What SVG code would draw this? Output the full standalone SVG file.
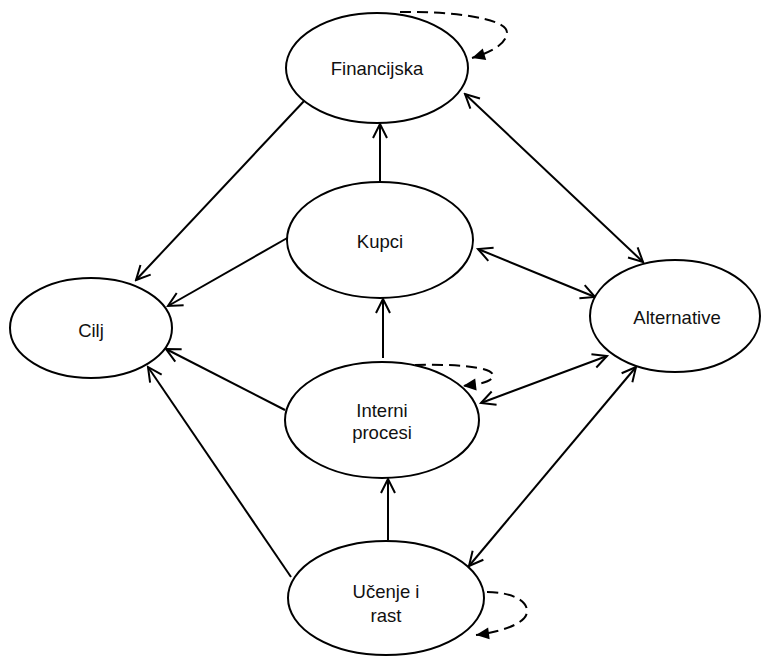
<svg xmlns="http://www.w3.org/2000/svg" width="761" height="659" viewBox="0 0 761 659">
<defs>
<style>
.node ellipse{fill:#fff;stroke:#000;stroke-width:2}
.node text{font-family:"Liberation Sans",Arial,sans-serif;font-size:18.5px;fill:#111;text-anchor:middle}
.edge{fill:none;stroke:#000;stroke-width:2}
.arr{marker-end:url(#open)}
.bi{marker-start:url(#open);marker-end:url(#open)}
.loop{fill:none;stroke:#000;stroke-width:2;stroke-dasharray:11 6;marker-end:url(#filled)}
</style>
<marker id="open" markerUnits="userSpaceOnUse" viewBox="-16 -9 18 18" refX="0" refY="0" markerWidth="18" markerHeight="18" orient="auto-start-reverse">
<path d="M -14 -7 L 0 0 L -14 7" fill="none" stroke="#000" stroke-width="2"/>
</marker>
<marker id="filled" markerUnits="userSpaceOnUse" viewBox="-14 -7 15 14" refX="0" refY="0" markerWidth="15" markerHeight="14" orient="auto">
<path d="M -13 -6 L 0 0 L -13 6 Z" fill="#000"/>
</marker>
</defs>
<rect width="761" height="659" fill="#fff"/>
<g id="connectors">
<line class="edge arr" x1="305" y1="100" x2="136" y2="280"/>
<line class="edge arr" x1="289" y1="237" x2="168" y2="306"/>
<line class="edge arr" x1="285" y1="410" x2="166" y2="349"/>
<line class="edge arr" x1="291" y1="577" x2="148" y2="367"/>
<line class="edge arr" x1="380" y1="183" x2="380" y2="124"/>
<line class="edge arr" x1="383" y1="358" x2="383" y2="299"/>
<line class="edge arr" x1="388" y1="540" x2="388" y2="479"/>
<line class="edge bi" x1="465" y1="94" x2="643" y2="262"/>
<line class="edge bi" x1="478" y1="249" x2="595" y2="297"/>
<line class="edge bi" x1="481" y1="403" x2="607" y2="356"/>
<line class="edge bi" x1="469" y1="566" x2="636" y2="367"/>
<path class="loop" d="M 400 12 C 450 11, 508 18, 507 33 C 506 44, 492 52, 472 58"/>
<path class="loop" d="M 415 365 C 450 364, 494 366, 493 376 C 492 382, 480 384, 463 386"/>
<path class="loop" d="M 487 592 C 510 592, 528 600, 527 612 C 526 624, 500 632, 476 635"/>
</g>
<g id="financijska" class="node"><ellipse cx="377" cy="68" rx="91" ry="55"/><text x="377" y="75">Financijska</text></g>
<g id="kupci" class="node"><ellipse cx="380" cy="240" rx="93" ry="58"/><text x="380" y="248">Kupci</text></g>
<g id="interni" class="node"><ellipse cx="382" cy="420" rx="97" ry="58"/><text x="382" y="417">Interni</text><text x="382" y="439">procesi</text></g>
<g id="ucenje" class="node"><ellipse cx="386" cy="598" rx="98" ry="57"/><text x="386" y="598">Učenje i</text><text x="386" y="622">rast</text></g>
<g id="cilj" class="node"><ellipse cx="91" cy="328" rx="81" ry="50"/><text x="91" y="337">Cilj</text></g>
<g id="alternative" class="node"><ellipse cx="675" cy="316" rx="85" ry="56"/><text x="677" y="324">Alternative</text></g>
</svg>
